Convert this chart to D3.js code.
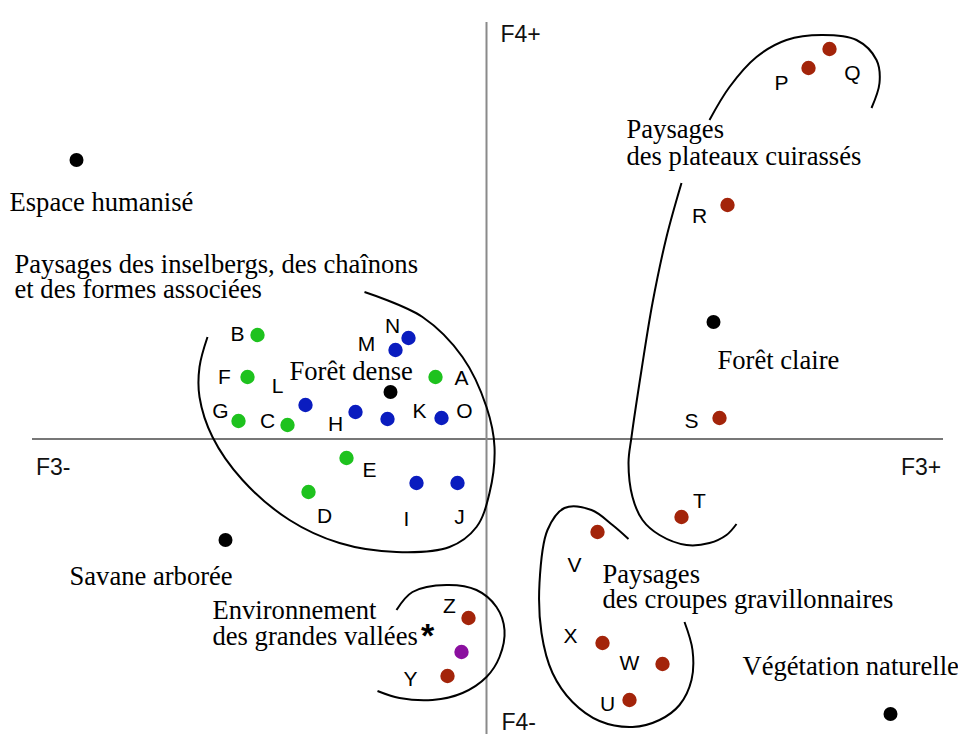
<!DOCTYPE html>
<html><head><meta charset="utf-8">
<script src="https://cdn.jsdelivr.net/npm/d3@7"></script>
<style>html,body{margin:0;padding:0;background:#fff;}svg{display:block;}</style>
</head><body>
<svg id="chart" width="958" height="734"></svg>
<script>
// ---- Data (factor scores on F3 / F4) ----
const greenNames = ["A","B","C","D","E","F","G"];
const greenF3 = [-0.51,-2.29,-1.99,-1.78,-1.40,-2.39,-2.48];
const greenF4 = [ 0.62, 1.04, 0.14,-0.53,-0.19, 0.62, 0.18];

const blueNames = ["H","I","J","K","L","M","N","O"];
const blueF3 = [-1.31,-0.70,-0.29,-0.99,-1.81,-0.91,-0.78,-0.45];
const blueF4 = [ 0.27,-0.44,-0.44, 0.20, 0.34, 0.89, 1.01, 0.21];

const redNames = ["P","Q","R","S","T","U","V","W","X","Y","Z"];
const redF3 = [3.22,3.43,2.41,2.33,1.95,1.43,1.11,1.76,1.16,-0.39,-0.18];
const redF4 = [3.71,3.90,2.34,0.21,-0.78,-2.61,-0.93,-2.25,-2.04,-2.37,-1.79];

const purpleF3 = [-0.25];
const purpleF4 = [-2.13];

const suppNames = ["Espace humanisé","Forêt dense","Savane arborée","Forêt claire","Végétation naturelle"];
const suppF3 = [-4.10,-0.96,-2.61,2.27,4.04];
const suppF4 = [ 2.79, 0.47,-1.01,1.17,-2.75];

const starF3 = [-0.59];
const starF4 = [-1.91];

const axisLabels = ["F3-","F3+","F4+","F4-"];

const groupNames = [
  ["Paysages des inselbergs, des chaînons","et des formes associées"],
  ["Environnement","des grandes vallées"],
  ["Paysages","des croupes gravillonnaires"],
  ["Paysages","des plateaux cuirassés"]
];
const groupF3 = [-4.72,-2.74,1.16,1.40];
const groupF4 = [ 1.66,-1.80,-1.44,3.01];

// Hand-drawn group outlines (F3,F4)
const outlineInselbergs = [[-1.22,1.47],[-0.64,1.22],[-0.24,0.82],[0.00,0.32],[0.08,-0.08],[0.03,-0.54],[-0.10,-0.88],[-0.37,-1.08],[-0.90,-1.13],[-1.47,-1.04],[-1.97,-0.81],[-2.44,-0.41],[-2.74,0.02],[-2.87,0.42],[-2.87,0.72],[-2.79,1.02]];
const outlineVallees = [[-0.90,-1.71],[-0.74,-1.53],[-0.40,-1.46],[-0.10,-1.51],[0.10,-1.68],[0.18,-1.91],[0.13,-2.18],[0.00,-2.38],[-0.24,-2.54],[-0.54,-2.61],[-0.87,-2.59],[-1.09,-2.52]];
const outlineCroupes = [[1.42,-1.00],[1.26,-0.86],[1.05,-0.71],[0.78,-0.69],[0.61,-0.91],[0.53,-1.44],[0.55,-1.94],[0.66,-2.34],[0.86,-2.63],[1.13,-2.82],[1.46,-2.88],[1.73,-2.81],[1.93,-2.66],[2.05,-2.41],[2.06,-2.11],[1.98,-1.83]];
const outlinePlateauxTop = [[2.23,3.19],[2.43,3.52],[2.70,3.82],[3.00,3.99],[3.36,4.04],[3.70,3.99],[3.90,3.79],[3.93,3.56],[3.85,3.31]];
const outlinePlateauxBottom = [[1.95,2.56],[1.80,2.02],[1.66,1.36],[1.55,0.69],[1.45,0.02],[1.42,-0.24],[1.46,-0.58],[1.56,-0.81],[1.73,-0.96],[2.00,-1.06],[2.23,-1.04],[2.40,-0.96],[2.50,-0.85]];

// ---- Layout (label offsets in px) ----
const letterOffset = {
  A:[26,0],B:[-20,-2],C:[-20,-5],D:[16,23],E:[23,11],F:[-23,-1],G:[-18,-11],
  H:[-20,11],I:[-10,35],J:[2,33],K:[32,-9],L:[-28,-20],M:[-29,-7],N:[-16,-13],O:[23,-8],
  P:[-27,14],Q:[23,23],R:[-28,10],S:[-28,2],T:[18,-17],U:[-22,3],V:[-23,32],W:[-33,-2],X:[-32,-8],Y:[-37,2],Z:[-19,-13]
};
const suppOffset = [[-67,51],[-101,-12],[-156,45],[4,47],[-148,-39]];
const groupLineGap = [25,26,25,26.5];

const colGreen = "#1ec21e", colBlue = "#0a1cbf", colRed = "#a3240a", colPurple = "#8b0f9f";

const svg = d3.select("#chart");
const x = d3.scaleLinear().domain([-4.545, 4.565]).range([32, 943]);
const y = d3.scaleLinear().domain([-2.95, 4.17]).range([734, 22]);

// axes
svg.append("line").attr("x1", x.range()[0]).attr("x2", x.range()[1])
  .attr("y1", y(0)).attr("y2", y(0)).attr("stroke", "#4a4a4a").attr("stroke-width", 1.5);
svg.append("line").attr("x1", x(0)).attr("x2", x(0))
  .attr("y1", y.range()[1]).attr("y2", y.range()[0]).attr("stroke", "#8a8a8a").attr("stroke-width", 2);

const sans = "'Liberation Sans', Arial, sans-serif";
const serif = "'Liberation Serif', 'Times New Roman', serif";
const serifSize = 26.6;

const axText = svg.append("g").attr("font-family", sans).attr("font-size", 23).attr("fill", "#111");
axText.append("text").attr("x", x.range()[0] + 4).attr("y", y(0) + 36).text(axisLabels[0]);
axText.append("text").attr("x", x.range()[1] - 42).attr("y", y(0) + 36).text(axisLabels[1]);
axText.append("text").attr("x", x(0) + 14).attr("y", y.range()[1] + 20).text(axisLabels[2]);
axText.append("text").attr("x", x(0) + 15).attr("y", y.range()[0] - 4).text(axisLabels[3]);

// outlines
const line = d3.line().x(d => x(d[0])).y(d => y(d[1])).curve(d3.curveCatmullRom.alpha(0.5));
[outlineInselbergs, outlineVallees, outlineCroupes, outlinePlateauxTop, outlinePlateauxBottom].forEach(o => {
  svg.append("path").attr("d", line(o)).attr("fill", "none").attr("stroke", "#000").attr("stroke-width", 2);
});

// group labels
groupNames.forEach((lines, i) => {
  const t = svg.append("text").attr("font-family", serif).attr("font-size", serifSize).attr("fill", "#000")
    .attr("x", x(groupF3[i])).attr("y", y(groupF4[i]));
  lines.forEach((s, j) => {
    t.append("tspan").attr("x", x(groupF3[i])).attr("dy", j === 0 ? 0 : groupLineGap[i]).text(s);
  });
});

// point series
function series(names, f3, f4, color) {
  const data = f3.map((v, i) => ({ name: names ? names[i] : null, f3: v, f4: f4[i] }));
  svg.append("g").selectAll("circle").data(data).join("circle")
    .attr("cx", d => x(d.f3)).attr("cy", d => y(d.f4)).attr("r", 7.2).attr("fill", color);
  if (names) {
    svg.append("g").attr("font-family", sans).attr("font-size", 21).attr("fill", "#000")
      .selectAll("text").data(data).join("text")
      .attr("x", d => x(d.f3) + letterOffset[d.name][0])
      .attr("y", d => y(d.f4) + letterOffset[d.name][1])
      .attr("text-anchor", "middle").attr("dominant-baseline", "central").text(d => d.name);
  }
}
series(greenNames, greenF3, greenF4, colGreen);
series(blueNames, blueF3, blueF4, colBlue);
series(redNames, redF3, redF4, colRed);
series(null, purpleF3, purpleF4, colPurple);

// supplementary (black) points
const supp = suppNames.map((n, i) => ({ name: n, f3: suppF3[i], f4: suppF4[i], o: suppOffset[i] }));
svg.append("g").selectAll("circle").data(supp).join("circle")
  .attr("cx", d => x(d.f3)).attr("cy", d => y(d.f4)).attr("r", 7).attr("fill", "#000");
svg.append("g").attr("font-family", serif).attr("font-size", serifSize).attr("fill", "#000")
  .selectAll("text").data(supp).join("text")
  .attr("x", d => x(d.f3) + d.o[0]).attr("y", d => y(d.f4) + d.o[1]).text(d => d.name);

// star
svg.append("text").attr("font-family", sans).attr("font-size", 34).attr("font-weight", "bold")
  .attr("text-anchor", "middle").attr("x", x(starF3[0])).attr("y", y(starF4[0]) + 17).text("*");
</script>
</body></html>
